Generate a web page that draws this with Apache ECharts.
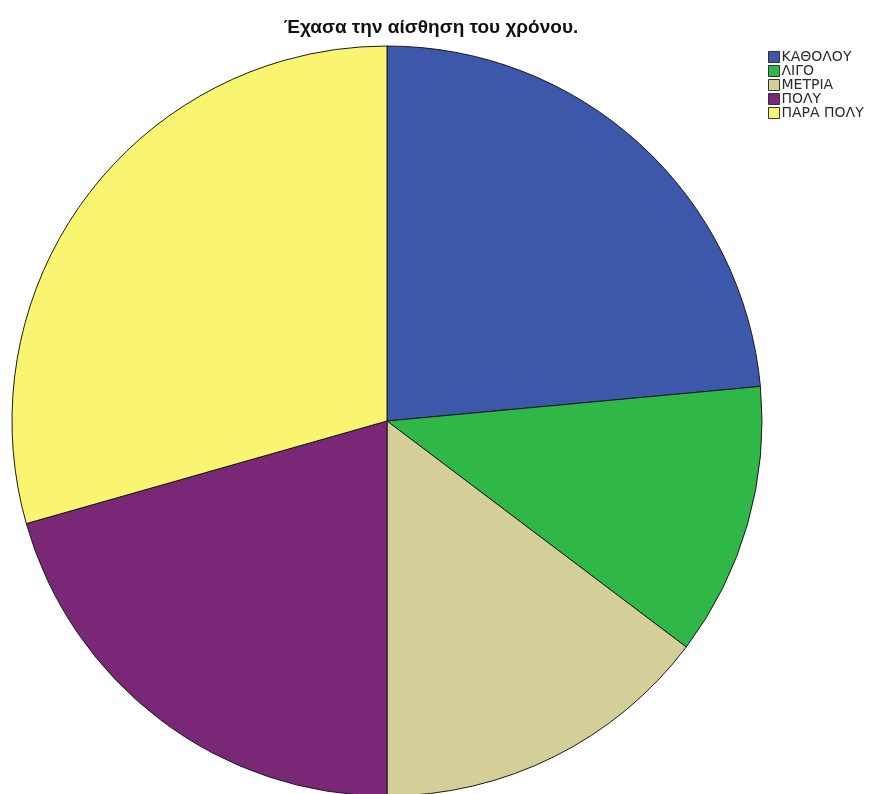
<!DOCTYPE html>
<html>
<head>
<meta charset="utf-8">
<script src="https://cdn.jsdelivr.net/npm/echarts@6/dist/echarts.min.js"></script>
<style>
html,body{margin:0;padding:0;background:#fff;}
#chart{width:895px;height:794px;}
</style>
</head>
<body>
<div id="chart"></div>
<script>
// Response categories and counts
const categories = ['ΚΑΘΟΛΟΥ', 'ΛΙΓΟ', 'ΜΕΤΡΙΑ', 'ΠΟΛΥ', 'ΠΑΡΑ ΠΟΛΥ'];
const counts = [8, 4, 5, 7, 10];
const colors = ['#3D57AB', '#2FB847', '#D4CE98', '#7A2777', '#FAF571'];

const chart = echarts.init(document.getElementById('chart'), null, {renderer: 'canvas'});
chart.setOption({
  animation: false,
  backgroundColor: '#ffffff',
  title: {
    text: 'Έχασα την αίσθηση του χρόνου.',
    left: 431,
    top: 18,
    padding: 0,
    textAlign: 'center',
    textStyle: {fontFamily: 'Liberation Sans, Arial, sans-serif', fontSize: 19, fontWeight: 'bold', color: '#111'}
  },
  legend: {
    orient: 'vertical',
    left: 768,
    top: 50,
    padding: 0,
    icon: 'rect',
    itemWidth: 11,
    itemHeight: 11,
    itemGap: 0,
    selectedMode: false,
    textStyle: {fontFamily: 'DejaVu Sans, sans-serif', fontSize: 14, lineHeight: 12, color: '#2a2a2a', padding: [0, 0, 0, -3]},
    itemStyle: {borderColor: '#333', borderWidth: 1},
    data: categories
  },
  series: [{
    type: 'pie',
    center: [387, 421],
    radius: [0, 375],
    startAngle: 90,
    clockwise: true,
    label: {show: false},
    labelLine: {show: false},
    emphasis: {disabled: true},
    itemStyle: {borderColor: '#1a1a1a', borderWidth: 1},
    data: categories.map((c, i) => ({name: c, value: counts[i], itemStyle: {color: colors[i]}}))
  }]
});
</script>
</body>
</html>
